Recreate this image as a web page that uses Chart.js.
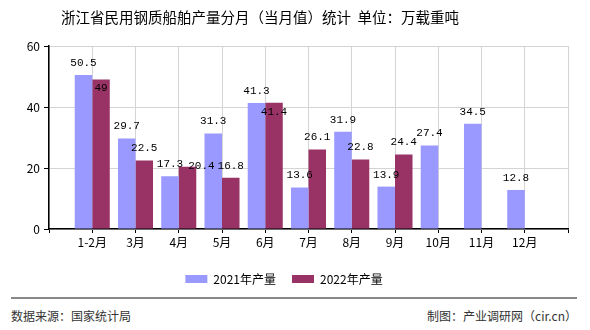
<!DOCTYPE html>
<html>
<head>
<meta charset="utf-8">
<script src="https://cdn.jsdelivr.net/npm/chart.js@4"></script>
<style>
  body { margin: 0; background: #fff; font-family: "Noto Sans CJK SC", sans-serif; }
  #wrap { position: relative; width: 590px; height: 330px; overflow: hidden; }
  #title { position: absolute; left: 61px; top: 6px; font-size: 14.5px; color: #000; white-space: nowrap; }
  #rule { position: absolute; left: 11px; width: 566px; top: 297px; height: 0; border-top: 2px solid #888; }
  .foot { position: absolute; top: 307px; font-size: 12px; color: #333; white-space: nowrap; }
  #src { left: 11px; }
  #by { right: 13px; }
  canvas { position: absolute; left: 0; top: 0; }
</style>
</head>
<body>
<div id="wrap">
  <canvas id="chart" width="590" height="303"></canvas>
  <div id="title">浙江省民用钢质船舶产量分月（当月值）统计&nbsp;&nbsp;单位：万载重吨</div>
  <div id="rule"></div>
  <div class="foot" id="src">数据来源：国家统计局</div>
  <div class="foot" id="by">制图：产业调研网（cir.cn）</div>
</div>
<script>
// months, with an empty slot at each end so the bars sit between the edges
const months = ['', '1-2月', '3月', '4月', '5月', '6月', '7月', '8月', '9月', '10月', '11月', '12月', ''];
const prod2021 = [null, 50.5, 29.7, 17.3, 31.3, 41.3, 13.6, 31.9, 13.9, 27.4, 34.5, 12.8, null];
const prod2022 = [null, 49, 22.5, 20.4, 16.8, 41.4, 26.1, 22.8, 24.4, null, null, null, null];
const yTicks = [0, 20, 40, 60];

const labelFont = '11px "Liberation Mono", monospace';

// value labels above the bars; a 2022 label that hits the 2021 one is moved
// down (or to the right when it would sit above it)
const valueLabels = {
    id: 'valueLabels',
    afterDatasetsDraw(chart) {
        const ctx = chart.ctx;
        ctx.save();
        ctx.font = labelFont;
        ctx.fillStyle = '#000';
        ctx.textAlign = 'center';
        ctx.textBaseline = 'middle';
        const m0 = chart.getDatasetMeta(0).data;
        const m1 = chart.getDatasetMeta(1).data;
        for (let i = 0; i < months.length; i++) {
            let a = null;
            if (prod2021[i] != null) {
                const t = String(prod2021[i]);
                a = { x: m0[i].x, y: m0[i].y - 12, w: ctx.measureText(t).width };
                ctx.fillText(t, a.x, a.y);
            }
            if (prod2022[i] != null) {
                const t = String(prod2022[i]);
                const b = { x: m1[i].x, y: m1[i].y - 12, w: ctx.measureText(t).width };
                if (a && Math.abs(a.y - b.y) < 12 && Math.abs(a.x - b.x) < (a.w + b.w) / 2) {
                    if (b.y < a.y - 3) {
                        b.y = a.y + 2;
                        b.x = a.x + (a.w + b.w) / 2 + 5;
                    } else {
                        b.y += 21;
                    }
                }
                ctx.fillText(t, b.x, b.y);
            }
        }
        ctx.restore();
    }
};

const ctx = document.getElementById('chart').getContext('2d');
const chart = new Chart(ctx, {
    type: 'bar',
    data: {
        labels: months,
        datasets: [{
            label: '2021年产量',
            data: prod2021,
            backgroundColor: '#9999ff',
            categoryPercentage: 0.81,
            barPercentage: 1.0
        }, {
            label: '2022年产量',
            data: prod2022,
            backgroundColor: '#993366',
            categoryPercentage: 0.81,
            barPercentage: 1.0
        }]
    },
    options: {
        responsive: false,
        animation: false,
        layout: { padding: { left: 0, right: 22, top: 46, bottom: 8 } },
        plugins: {
            tooltip: { enabled: false },
            legend: {
                position: 'bottom',
                labels: {
                    boxWidth: 22,
                    boxHeight: 8,
                    padding: 16,
                    color: '#000',
                    font: { family: '"Noto Sans CJK SC", sans-serif', size: 12 }
                }
            }
        },
        scales: {
            x: {
                offset: false,
                grid: { offset: false, color: '#d4d4d4', tickColor: '#000', tickLength: 4 },
                border: { color: '#000', width: 1.5 },
                ticks: {
                    color: '#000',
                    autoSkip: false,
                    maxRotation: 0,
                    padding: 2,
                    font: { family: '"Noto Sans CJK SC", sans-serif', size: 12 }
                },
                afterFit(s) { s.height = 28; }
            },
            y: {
                min: 0,
                max: 60,
                afterBuildTicks(s) { s.ticks = yTicks.map(v => ({ value: v })); },
                grid: { color: '#d4d4d4', tickColor: '#000', tickLength: 5 },
                border: { color: '#000', width: 1.5 },
                ticks: {
                    color: '#000',
                    padding: 4,
                    font: { family: '"Noto Sans CJK SC", sans-serif', size: 12 }
                },
                afterFit(s) { s.width = 49; }
            }
        }
    },
    plugins: [valueLabels]
});
</script>
</body>
</html>
